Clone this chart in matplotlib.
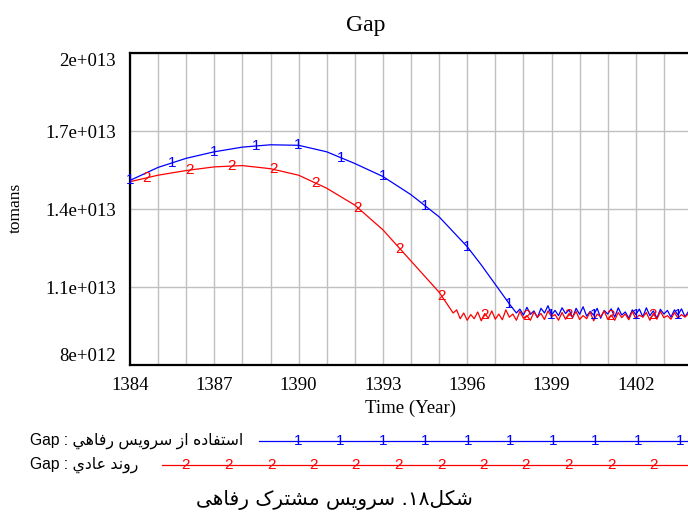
import re
import numpy as np
import matplotlib
matplotlib.use("Agg")
import matplotlib.pyplot as plt
from matplotlib.lines import Line2D

# ---- data (values in 1e13 tomans) ----
years_ticks = [1384, 1387, 1390, 1393, 1396, 1399, 1402]
y_ticks = [0.8, 1.1, 1.4, 1.7, 2.0]
y_tick_labels = ["8e+012", "1.1e+013", "1.4e+013", "1.7e+013", "2e+013"]

# series 1: استفاده از سرویس رفاهي (blue)
blue_t = [1384, 1385, 1386, 1387, 1388, 1389, 1390, 1391, 1392, 1393, 1394,
          1395, 1396, 1396.5, 1397, 1397.5]
blue_v = [1.51, 1.56, 1.595, 1.62, 1.638, 1.647, 1.645, 1.62, 1.575, 1.525,
          1.455, 1.37, 1.255, 1.185, 1.11, 1.035]
blue_noise_start = 1397.75
blue_noise = [1.000, 1.015, 0.992, 1.022, 0.995, 1.008, 0.982, 1.018, 1.000, 1.028,
              0.992, 1.010, 0.990, 1.020, 0.998, 1.012, 0.982, 1.018, 0.995, 1.024,
              0.988, 1.006, 0.992, 1.018, 0.980, 1.010, 0.996, 1.016, 0.984, 1.020,
              0.992, 1.004, 0.980, 1.012, 0.994, 1.015, 0.985, 1.020, 0.990, 1.008,
              0.980, 1.014, 0.996, 1.010, 0.984, 1.012, 0.992, 1.016, 0.986, 1.006,
              0.982]

# series 2: روند عادي (red)
red_t = [1384, 1385, 1386, 1387, 1388, 1389, 1390, 1391, 1392, 1393, 1394,
         1395, 1395.25, 1395.5]
red_v = [1.505, 1.53, 1.548, 1.562, 1.567, 1.555, 1.53, 1.48, 1.415, 1.32,
         1.20, 1.08, 1.04, 1.0]
red_noise_start = 1395.625
red_noise = [1.012, 0.978, 1.000, 0.972, 0.994, 0.978, 1.004, 0.970, 0.998, 0.980,
             1.008, 0.976, 0.996, 0.974, 1.012, 0.984, 0.996, 0.972, 1.006, 0.980,
             0.990, 0.972, 1.004, 0.984, 0.998, 0.975, 1.008, 0.986, 0.994, 0.972,
             1.002, 0.976, 0.998, 0.984, 1.006, 0.975, 0.990, 0.978, 1.004, 0.970,
             0.996, 0.986, 1.008, 0.976, 0.992, 0.972, 1.002, 0.982, 0.996, 0.974,
             1.006, 0.978, 0.992, 0.984, 1.002, 0.972, 0.998, 0.976, 1.006, 0.982,
             0.990, 0.976, 1.002, 0.980, 0.994, 0.984, 0.998, 0.988]
noise_dt = 0.125

label_1 = "استفاده از سرویس رفاهي"
label_2 = "روند عادي"
caption = "شکل۱۸. سرویس مشترک رفاهی"

BLUE = "#0000ff"
RED = "#ff0000"
GRID = "#c0c0c0"

# ---- arabic shaping (matplotlib has no bidi / joining) ----
FORMS = {
    'ا': (0xFE8D, 0xFE8E), 'د': (0xFEA9, 0xFEAA), 'ر': (0xFEAD, 0xFEAE),
    'ز': (0xFEAF, 0xFEB0), 'و': (0xFEED, 0xFEEE),
    'ت': (0xFE95, 0xFE96, 0xFE97, 0xFE98), 'س': (0xFEB1, 0xFEB2, 0xFEB3, 0xFEB4),
    'ش': (0xFEB5, 0xFEB6, 0xFEB7, 0xFEB8), 'ع': (0xFEC9, 0xFECA, 0xFECB, 0xFECC),
    'ف': (0xFED1, 0xFED2, 0xFED3, 0xFED4), 'ل': (0xFEDD, 0xFEDE, 0xFEDF, 0xFEE0),
    'م': (0xFEE1, 0xFEE2, 0xFEE3, 0xFEE4), 'ن': (0xFEE5, 0xFEE6, 0xFEE7, 0xFEE8),
    'ه': (0xFEE9, 0xFEEA, 0xFEEB, 0xFEEC), 'ي': (0xFEF1, 0xFEF2, 0xFEF3, 0xFEF4),
    'ی': (0xFBFC, 0xFBFD, 0xFBFE, 0xFBFF), 'ک': (0xFB8E, 0xFB8F, 0xFB90, 0xFB91),
}


def shape(s):
    out = []
    for i, ch in enumerate(s):
        if ch not in FORMS:
            out.append(ch)
            continue
        f = FORMS[ch]
        prev = s[i - 1] if i > 0 else ''
        nxt = s[i + 1] if i + 1 < len(s) else ''
        jp = prev in FORMS and len(FORMS[prev]) == 4
        jn = len(f) == 4 and nxt in FORMS
        if jp and jn:
            out.append(chr(f[3]))
        elif jp:
            out.append(chr(f[1]))
        elif jn:
            out.append(chr(f[2]))
        else:
            out.append(chr(f[0]))
    vis = ''.join(reversed(out))
    # numbers stay left to right
    return re.sub('[۰-۹0-9]+', lambda m: m.group(0)[::-1], vis)


# ---- build series ----
bt = np.concatenate([blue_t, blue_noise_start + noise_dt * np.arange(len(blue_noise))])
bv = np.concatenate([blue_v, blue_noise]) * 1e13
rt = np.concatenate([red_t, red_noise_start + noise_dt * np.arange(len(red_noise))])
rv = np.concatenate([red_v, red_noise]) * 1e13

fig = plt.figure(figsize=(6.88, 5.13), dpi=100)
ax = fig.add_axes([130 / 688, 1 - 365 / 513, 562 / 688, 312 / 513])

ax.plot(bt, bv, color=BLUE, lw=0.9, zorder=3)
ax.plot(rt, rv, color=RED, lw=0.9, zorder=3)

# vensim style number markers along the lines
for t in np.arange(1384, 1404.01, 1.5):
    ax.text(t, np.interp(t, bt, bv), "1", color=BLUE, ha="center", va="center",
            fontsize=11, family="Liberation Sans", zorder=4)
for t in np.arange(1384.6, 1404.01, 1.5):
    ax.text(t, np.interp(t, rt, rv), "2", color=RED, ha="center", va="center",
            fontsize=11, family="Liberation Sans", zorder=4)

ax.set_xlim(1384, 1404)
ax.set_ylim(0.8e13, 2.0e13)
ax.set_xticks(years_ticks)
ax.set_xticks(np.arange(1385, 1404), minor=True)
ax.set_yticks([v * 1e13 for v in y_ticks])
ax.set_yticklabels(y_tick_labels)
ax.grid(True, which="both", axis="x", color=GRID, lw=1)
ax.grid(True, which="major", axis="y", color=GRID, lw=1)
ax.tick_params(which="both", length=0)
ax.tick_params(axis="y", pad=10)
ax.tick_params(axis="x", pad=9)
for lab in ax.get_xticklabels() + ax.get_yticklabels():
    lab.set_family("Liberation Serif")
    lab.set_fontsize(13.5)
ylabs = ax.get_yticklabels()
ylabs[0].set_va("bottom")
ylabs[-1].set_va("top")
for side in ["left", "bottom", "top"]:
    ax.spines[side].set_linewidth(1.6)
ax.spines["right"].set_visible(False)

fig.text(366 / 688, 1 - 26 / 513, "Gap", ha="center", va="center",
         fontsize=17, family="Liberation Serif")
fig.text(411 / 688, 1 - 408 / 513, "Time (Year)", ha="center", va="center",
         fontsize=13.5, family="Liberation Serif")
fig.text(16 / 688, 1 - 208 / 513, "tomans", ha="center", va="center",
         rotation=90, fontsize=12.5, family="Liberation Serif")

# legend rows
rows = [(441, 259, 298, BLUE, "1", label_1), (465, 162, 186, RED, "2", label_2)]
for ypx, x0, m0, col, mk, lab in rows:
    fy = 1 - ypx / 513
    fig.add_artist(Line2D([x0 / 688, 1.0], [fy, fy], color=col, lw=0.9,
                          transform=fig.transFigure))
    for mx in np.arange(m0, 688, 42.5):
        fig.text(mx / 688, fy, mk, color=col, ha="center", va="center",
                 fontsize=11, family="Liberation Sans")
    fig.text(30 / 688, fy, "Gap : " + shape(lab), ha="left", va="center",
             fontsize=11.3, family=["Liberation Sans", "DejaVu Sans"])

fig.text(334 / 688, 1 - 500 / 513, shape(caption), ha="center", va="center",
         fontsize=14.5, family=["DejaVu Sans"])

fig.savefig("out.png", dpi=100)
